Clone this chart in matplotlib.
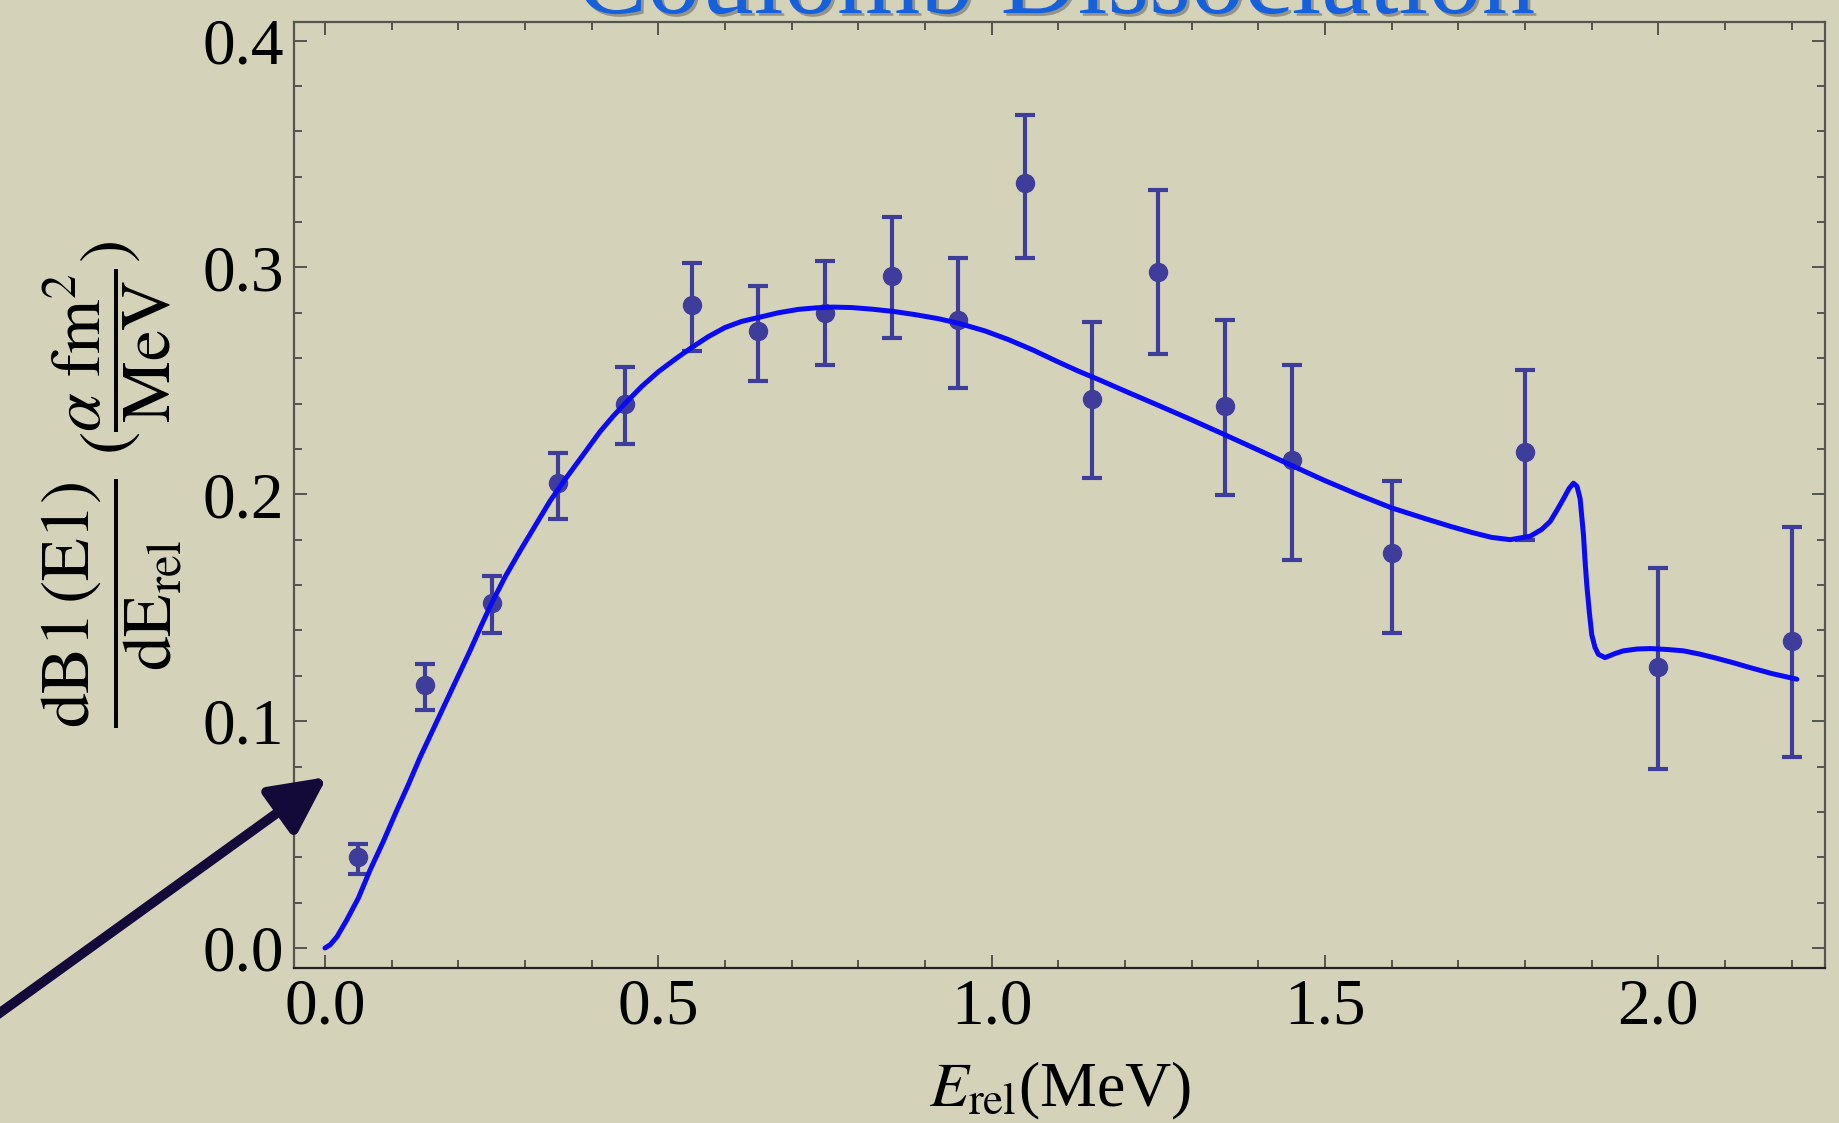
import numpy as np
import matplotlib
matplotlib.use("Agg")
import matplotlib.pyplot as plt
import matplotlib.patheffects as pe
from matplotlib.ticker import MultipleLocator

plt.rcParams['font.family'] = ['Liberation Serif', 'DejaVu Serif']
plt.rcParams['mathtext.fontset'] = 'stix'

# measured points (E_rel, value, lower err, upper err)
e_data = [0.05, 0.15, 0.25, 0.35, 0.45, 0.55, 0.65, 0.75, 0.85, 0.95,
          1.05, 1.15, 1.25, 1.35, 1.45, 1.6, 1.8, 2.0, 2.2]
b_data = [0.040, 0.116, 0.152, 0.205, 0.240, 0.2835, 0.272, 0.280, 0.296, 0.277,
          0.337, 0.242, 0.298, 0.239, 0.215, 0.174, 0.2185, 0.124, 0.1355]
b_top = [0.046, 0.125, 0.164, 0.218, 0.256, 0.302, 0.292, 0.303, 0.322, 0.304,
         0.367, 0.276, 0.334, 0.277, 0.257, 0.206, 0.255, 0.1675, 0.1855]
b_bot = [0.0325, 0.105, 0.139, 0.189, 0.222, 0.263, 0.250, 0.257, 0.269, 0.247,
         0.304, 0.207, 0.262, 0.1995, 0.171, 0.139, 0.180, 0.079, 0.084]

# theory curve
e_curve = [0.0, 0.008, 0.018, 0.0325, 0.05, 0.0675, 0.0875, 0.1075, 0.125, 0.1425, 0.16,
           0.1775, 0.1975, 0.2175, 0.235, 0.25, 0.27, 0.2925, 0.315, 0.3375, 0.36,
           0.385, 0.4125, 0.4325, 0.4526, 0.475, 0.5, 0.525, 0.5476, 0.575, 0.6,
           0.625, 0.6526, 0.68, 0.71, 0.7376, 0.7626, 0.79, 0.82, 0.8526, 0.885,
           0.92, 0.9526, 0.99, 1.025, 1.0626, 1.1, 1.13, 1.1626, 1.2, 1.25,
           1.3, 1.35, 1.4, 1.45, 1.5, 1.55, 1.6, 1.65, 1.6877, 1.72,
           1.75, 1.7777, 1.8077, 1.825, 1.8377, 1.848, 1.8577, 1.866, 1.8727, 1.878,
           1.8827, 1.8877, 1.89, 1.8927, 1.8965, 1.9002, 1.905, 1.91, 1.92, 1.935,
           1.9477, 1.968, 1.988, 2.013, 2.0377, 2.063, 2.0877, 2.113, 2.1377, 2.17,
           2.2077]
b_curve = [0.0, 0.0015, 0.005, 0.0123, 0.022, 0.0343, 0.047, 0.0606, 0.072, 0.084, 0.095,
           0.106, 0.1185, 0.131, 0.1425, 0.152, 0.1635, 0.175, 0.186, 0.197, 0.2065,
           0.2165, 0.2276, 0.2345, 0.2408, 0.2475, 0.254, 0.2595, 0.2642, 0.2695, 0.2735,
           0.2762, 0.2781, 0.280, 0.2815, 0.2822, 0.2825, 0.2823, 0.2816, 0.2806, 0.2792,
           0.2774, 0.2752, 0.272, 0.2682, 0.2635, 0.2583, 0.2543, 0.2503, 0.2455, 0.2392,
           0.2328, 0.2262, 0.2195, 0.2127, 0.206, 0.1998, 0.194, 0.1893, 0.1859, 0.1832,
           0.181, 0.180, 0.1815, 0.1845, 0.188, 0.193, 0.198, 0.2025, 0.2049, 0.2035,
           0.198, 0.1822, 0.171, 0.160, 0.148, 0.138, 0.1325, 0.1295, 0.128, 0.1298,
           0.131, 0.1318, 0.132, 0.1316, 0.131, 0.1295, 0.1277, 0.1257, 0.1236, 0.121,
           0.1185]

bg = '#d4d3ba'
fig = plt.figure(figsize=(18.4, 11.23), dpi=100, facecolor=bg)
ax = fig.add_axes([294 / 1840, 1 - 968 / 1123, (1825 - 294) / 1840, (968 - 21.7) / 1123])
ax.set_facecolor(bg)

yerr = [np.array(b_data) - np.array(b_bot), np.array(b_top) - np.array(b_data)]
ax.errorbar(e_data, b_data, yerr=yerr, fmt='o', color='#3f3d9b', ms=13,
            elinewidth=3, capsize=7, capthick=3, zorder=3)
ax.plot(e_curve, b_curve, color='#0a0af5', lw=3.6, zorder=4,
        solid_capstyle='round', solid_joinstyle='round')

ax.set_xlim(-0.0465, 2.25)
ax.set_ylim(-0.0088, 0.4083)
ax.xaxis.set_major_locator(MultipleLocator(0.5))
ax.xaxis.set_minor_locator(MultipleLocator(0.1))
ax.yaxis.set_major_locator(MultipleLocator(0.1))
ax.yaxis.set_minor_locator(MultipleLocator(0.02))
ax.xaxis.set_major_formatter(plt.FormatStrFormatter('%.1f'))
ax.yaxis.set_major_formatter(plt.FormatStrFormatter('%.1f'))
ax.tick_params(which='both', direction='in', top=True, right=True,
               color='#555550', width=1.4)
ax.tick_params(which='major', length=9.4, labelsize=47, pad=7)
ax.tick_params(which='minor', length=5.8)
for s in ax.spines.values():
    s.set_color('#555550')
    s.set_linewidth(1.6)
ax.spines['bottom'].set_color('#222222')

ax.set_xlabel(r'$E_{\mathrm{rel}}$(MeV)', fontsize=46, labelpad=16)

fig.text(112 / 1840, 1 - 484 / 1123,
         r'$\dfrac{\mathrm{dB1\,(E1)}}{\mathrm{dE_{rel}}}\ (\dfrac{\alpha\ \mathrm{fm}^2}{\mathrm{MeV}})$',
         rotation=90, fontsize=50, ha='center', va='center')

fig.text(1056 / 1840, 1 - 13 / 1123, 'Coulomb Dissociation', fontsize=77,
         color='#1560dd', ha='center', va='baseline',
         path_effects=[pe.withSimplePatchShadow(offset=(2, -2), shadow_rgbFace='#555555', alpha=0.5)])

ax.annotate('', xy=(327, 1123 - 777), xycoords='figure pixels',
            xytext=(-10, 1123 - 1020), textcoords='figure pixels',
            arrowprops=dict(arrowstyle='-|>,head_length=3.4,head_width=1.7',
                            lw=7, color='#140a3a', mutation_scale=10,
                            shrinkA=0, shrinkB=0),
            annotation_clip=False)

fig.savefig('out.png', dpi=100, facecolor=bg)
